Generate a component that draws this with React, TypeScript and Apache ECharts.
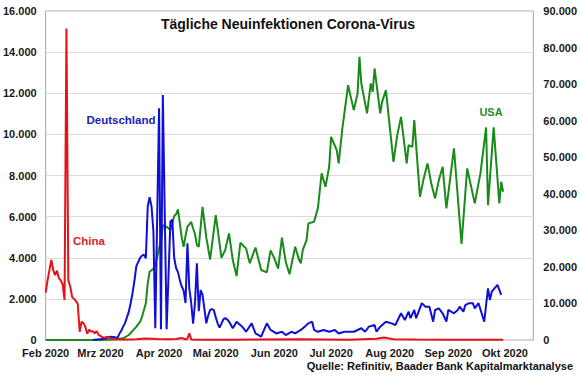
import React, { useEffect, useRef } from "react";
import * as echarts from "echarts";

// X axis range (daily categories) and month names
const monthNames = ["Jan", "Feb", "Mrz", "Apr", "Mai", "Jun", "Jul", "Aug", "Sep", "Okt", "Nov", "Dez"];
const monthLengths2020 = [31, 29, 31, 30, 31, 30, 31, 31, 30, 31, 30, 31];
const axisStart = { month: 2, day: 1 };
const axisEnd = { month: 10, day: 16 };

// Left axis (Deutschland, China)
const leftMax = 16000;
const leftInterval = 2000;
// Right axis (USA)
const rightMax = 90000;
const rightInterval = 10000;

// China (left axis)
const chinaDates = ["02-01", "02-02", "02-03", "02-04", "02-05", "02-06", "02-07", "02-08", "02-09", "02-10", "02-11", "02-12", "02-13", "02-14", "02-15", "02-16", "02-17", "02-18", "02-19", "02-20", "02-21", "02-22", "02-23", "02-24", "02-25", "02-26", "02-27", "02-28", "02-29", "03-01", "03-02", "03-03", "03-04", "03-05", "03-06", "03-07", "03-08", "03-10", "03-15", "03-20", "03-25", "03-31", "04-05", "04-10", "04-13", "04-15", "04-16", "04-17", "04-18", "04-25", "05-10", "06-15", "07-10", "07-25", "07-29", "08-03", "08-15", "09-01", "09-30"];
const chinaValues = [2300, 2900, 3400, 3890, 3400, 3150, 3370, 3000, 2900, 2700, 1950, 15150, 2900, 2600, 2100, 2000, 1900, 1750, 400, 890, 820, 650, 300, 500, 410, 430, 330, 430, 250, 200, 130, 120, 140, 140, 100, 50, 40, 20, 20, 40, 70, 50, 40, 50, 100, 40, 60, 330, 30, 10, 15, 40, 10, 60, 120, 40, 20, 10, 15];

// Deutschland (left axis)
const germanyDates = ["02-26", "02-28", "03-01", "03-03", "03-05", "03-06", "03-08", "03-10", "03-11", "03-12", "03-13", "03-14", "03-15", "03-16", "03-17", "03-18", "03-19", "03-20", "03-21", "03-22", "03-23", "03-24", "03-25", "03-26", "03-27", "03-28", "03-29", "03-30", "04-01", "04-02", "04-03", "04-05", "04-07", "04-08", "04-09", "04-10", "04-11", "04-12", "04-13", "04-14", "04-15", "04-16", "04-17", "04-18", "04-19", "04-20", "04-21", "04-22", "04-23", "04-24", "04-25", "04-26", "04-27", "04-28", "04-29", "04-30", "05-01", "05-02", "05-03", "05-04", "05-05", "05-06", "05-07", "05-08", "05-10", "05-12", "05-15", "05-17", "05-20", "05-22", "05-25", "05-28", "05-30", "06-02", "06-05", "06-07", "06-10", "06-12", "06-15", "06-17", "06-19", "06-21", "06-22", "06-24", "06-27", "06-30", "07-03", "07-05", "07-08", "07-11", "07-13", "07-17", "07-19", "07-21", "07-24", "07-25", "07-27", "07-30", "08-02", "08-04", "08-07", "08-09", "08-11", "08-12", "08-14", "08-15", "08-18", "08-20", "08-22", "08-24", "08-25", "08-27", "08-29", "08-31", "09-01", "09-04", "09-06", "09-07", "09-09", "09-10", "09-12", "09-14", "09-15", "09-17", "09-20", "09-22", "09-23", "09-24", "09-27", "09-29"];
const germanyValues = [0, 20, 40, 60, 120, 160, 150, 100, 300, 450, 650, 820, 1100, 1380, 1800, 2300, 2900, 3600, 3800, 4000, 4100, 4150, 3970, 6490, 6940, 6500, 5300, 570, 11270, 520, 11920, 520, 5760, 5850, 4000, 3500, 3300, 2900, 2600, 2400, 1800, 4700, 2500, 1800, 800, 1800, 3730, 1400, 2430, 2200, 1500, 810, 1200, 1460, 1500, 1450, 1100, 800, 600, 800, 1000, 1060, 1000, 900, 570, 890, 650, 400, 810, 320, 160, 810, 490, 320, 400, 240, 400, 320, 490, 650, 810, 890, 490, 400, 490, 400, 490, 320, 400, 400, 400, 570, 400, 650, 730, 400, 650, 890, 810, 730, 1300, 970, 1380, 1060, 1460, 1060, 1790, 1620, 1620, 890, 1460, 1540, 1300, 890, 1460, 1300, 1460, 1620, 1380, 1700, 1790, 1790, 1540, 1790, 890, 2510, 1950, 2350, 2680, 2190];

// USA (right axis)
const usaDates = ["02-01", "03-01", "03-06", "03-10", "03-13", "03-16", "03-18", "03-20", "03-22", "03-23", "03-25", "03-26", "03-27", "03-29", "03-30", "03-31", "04-02", "04-03", "04-05", "04-07", "04-09", "04-10", "04-11", "04-13", "04-14", "04-15", "04-16", "04-18", "04-19", "04-20", "04-21", "04-22", "04-24", "04-26", "04-28", "05-01", "05-04", "05-06", "05-08", "05-10", "05-12", "05-14", "05-17", "05-19", "05-22", "05-25", "05-28", "05-30", "06-01", "06-03", "06-05", "06-07", "06-09", "06-12", "06-14", "06-15", "06-16", "06-18", "06-19", "06-22", "06-24", "06-26", "06-28", "06-30", "07-01", "07-04", "07-05", "07-07", "07-10", "07-13", "07-15", "07-16", "07-17", "07-20", "07-22", "07-23", "07-24", "07-27", "07-28", "07-30", "08-03", "08-04", "08-05", "08-07", "08-10", "08-11", "08-13", "08-14", "08-17", "08-19", "08-21", "08-23", "08-25", "08-27", "08-29", "08-31", "09-04", "09-08", "09-11", "09-15", "09-18", "09-21", "09-22", "09-25", "09-28", "09-29", "09-30"];
const usaValues = [0, 20, 100, 300, 460, 1370, 2500, 3640, 5000, 6380, 10030, 15500, 18680, 19500, 20500, 22780, 27340, 31440, 30980, 30070, 33900, 34370, 35730, 28000, 25500, 28500, 31000, 32300, 30500, 29000, 26000, 25500, 36440, 28000, 22000, 34180, 22500, 24600, 29170, 21870, 17500, 26600, 25070, 21000, 25300, 19140, 18500, 24500, 22330, 19500, 28000, 21410, 18000, 25510, 22000, 21000, 24600, 27340, 31900, 32340, 36010, 45580, 41910, 47380, 55580, 51950, 48310, 58000, 69720, 62880, 67440, 77460, 70180, 61980, 70180, 67890, 74280, 61980, 65150, 68350, 48750, 52410, 56050, 61050, 48310, 53310, 52850, 60150, 39180, 44210, 48310, 42840, 38740, 43740, 47380, 36010, 52410, 26250, 46940, 37370, 45580, 58150, 36910, 58150, 37370, 43280, 40550];

const pad = (n: number) => (n < 10 ? "0" + n : "" + n);

function buildCategories(): string[] {
  const out: string[] = [];
  let m = axisStart.month;
  let d = axisStart.day;
  while (m < axisEnd.month || (m === axisEnd.month && d <= axisEnd.day)) {
    out.push("2020-" + pad(m) + "-" + pad(d));
    d++;
    if (d > monthLengths2020[m - 1]) {
      d = 1;
      m++;
    }
  }
  return out;
}

const fmtDe = (v: number) => String(v).replace(/\B(?=(\d{3})+(?!\d))/g, ".");
const toPairs = (dates: string[], values: number[]) => dates.map((d, i) => ["2020-" + d, values[i]]);

const FONT = "'Liberation Sans', Arial, sans-serif";

export default function App() {
  const ref = useRef<HTMLDivElement>(null);
  useEffect(() => {
    if (!ref.current) return;
    const chart = echarts.init(ref.current, undefined, { renderer: "svg" });
    const categories = buildCategories();
    const labelStyle = { fontFamily: FONT, fontSize: 11, fontWeight: "bold" as const, color: "#1a1a1a" };
    chart.setOption({
      animation: false,
      backgroundColor: "#ffffff",
      grid: {
        left: 44,
        right: 45,
        top: 11,
        bottom: 35,
        show: true,
        borderColor: "#a6a6a6",
        borderWidth: 1,
        backgroundColor: "transparent",
      },
      xAxis: {
        type: "category",
        data: categories,
        boundaryGap: false,
        axisLine: { show: false },
        axisTick: { show: false },
        splitLine: { show: false },
        axisLabel: {
          ...labelStyle,
          margin: 7,
          interval: (_i: number, v: string) => v.endsWith("-01"),
          formatter: (v: string) => monthNames[parseInt(v.slice(5, 7), 10) - 1] + " 2020",
        },
      },
      yAxis: [
        {
          type: "value",
          min: 0,
          max: leftMax,
          interval: leftInterval,
          axisLine: { show: false },
          axisTick: { show: false },
          splitLine: { show: true, lineStyle: { color: "#dcdcdc", width: 1 } },
          axisLabel: { ...labelStyle, margin: 9, formatter: (v: number) => fmtDe(v) },
        },
        {
          type: "value",
          min: 0,
          max: rightMax,
          interval: rightInterval,
          position: "right",
          axisLine: { show: false },
          axisTick: { show: false },
          splitLine: { show: false },
          axisLabel: { ...labelStyle, margin: 10, formatter: (v: number) => fmtDe(v) },
        },
      ],
      series: [
        {
          name: "USA",
          type: "line",
          yAxisIndex: 1,
          data: toPairs(usaDates, usaValues),
          showSymbol: false,
          symbol: "none",
          lineStyle: { color: "#1a8a1a", width: 2 },
          itemStyle: { color: "#1a8a1a" },
        },
        {
          name: "Deutschland",
          type: "line",
          yAxisIndex: 0,
          data: toPairs(germanyDates, germanyValues),
          showSymbol: false,
          symbol: "none",
          lineStyle: { color: "#1010d4", width: 2 },
          itemStyle: { color: "#1010d4" },
        },
        {
          name: "China",
          type: "line",
          yAxisIndex: 0,
          data: toPairs(chinaDates, chinaValues),
          showSymbol: false,
          symbol: "none",
          lineStyle: { color: "#e5121a", width: 2 },
          itemStyle: { color: "#e5121a" },
        },
      ],
      graphic: [
        {
          type: "text",
          x: 288,
          y: 24,
          style: {
            text: "Tägliche Neuinfektionen Corona-Virus",
            fontFamily: FONT,
            fontSize: 14,
            fontWeight: "bold",
            fill: "#111111",
            textAlign: "center",
            textVerticalAlign: "middle",
          },
        },
        {
          type: "text",
          x: 121,
          y: 120,
          style: { text: "Deutschland", fontFamily: FONT, fontSize: 11.5, fontWeight: "bold", fill: "#2020c0", textAlign: "center", textVerticalAlign: "middle" },
        },
        {
          type: "text",
          x: 89,
          y: 241,
          style: { text: "China", fontFamily: FONT, fontSize: 11.5, fontWeight: "bold", fill: "#d9232d", textAlign: "center", textVerticalAlign: "middle" },
        },
        {
          type: "text",
          x: 491,
          y: 111.5,
          style: { text: "USA", fontFamily: FONT, fontSize: 11, fontWeight: "bold", fill: "#2a8a2a", textAlign: "center", textVerticalAlign: "middle" },
        },
        {
          type: "text",
          x: 573,
          y: 366,
          style: {
            text: "Quelle: Refinitiv, Baader Bank Kapitalmarktanalyse",
            fontFamily: FONT,
            fontSize: 11,
            fontWeight: "bold",
            fill: "#111111",
            textAlign: "right",
            textVerticalAlign: "middle",
          },
        },
      ],
    });
    return () => chart.dispose();
  }, []);
  return <div ref={ref} style={{ width: 580, height: 375, position: "absolute", left: 0, top: 0 }} />;
}
